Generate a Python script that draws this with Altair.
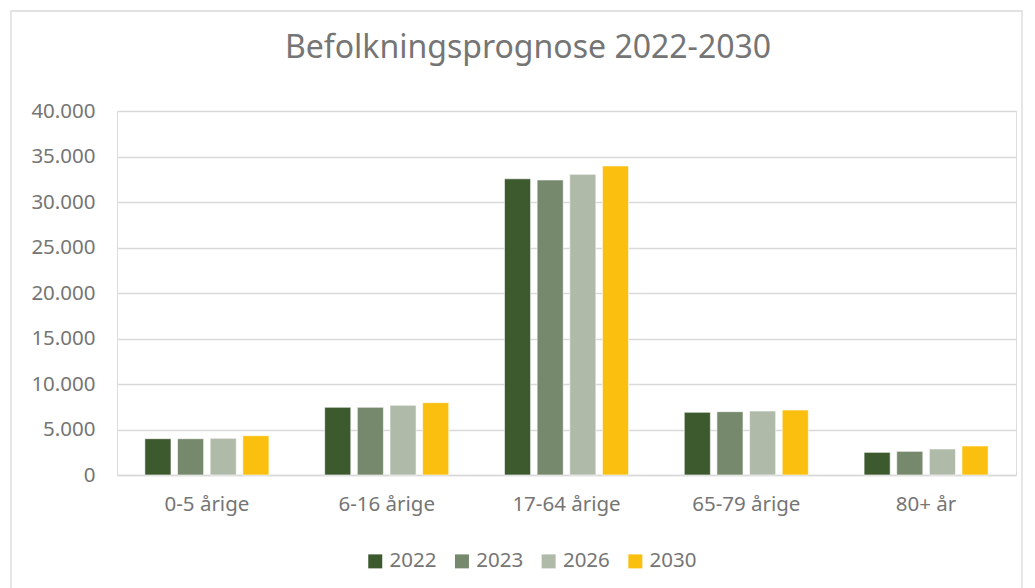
import altair as alt
import pandas as pd

categories = ["0-5 årige", "6-16 årige", "17-64 årige", "65-79 årige", "80+ år"]
years = ["2022", "2023", "2026", "2030"]
v2022 = [3990, 7440, 32550, 6890, 2490]
v2023 = [3990, 7440, 32420, 6960, 2600]
v2026 = [4030, 7660, 33040, 7030, 2860]
v2030 = [4320, 7950, 33960, 7140, 3190]
colors = ["#3d5a2f", "#76896c", "#b0baa9", "#fbbf0f"]
y_ticks = [0, 5000, 10000, 15000, 20000, 25000, 30000, 35000, 40000]
title_text = "Befolkningsprognose 2022-2030"

rows = []
for yr, vals in zip(years, [v2022, v2023, v2026, v2030]):
    for c, v in zip(categories, vals):
        rows.append({"Aldersgruppe": c, "År": yr, "Befolkning": v})
df = pd.DataFrame(rows)

FONT = "Noto Sans"
GRAY = "#757575"
GRID = "#d9d9d9"

bars = alt.Chart(df).mark_bar(stroke="white", strokeWidth=0.6).encode(
    x=alt.X("Aldersgruppe:N", sort=categories,
            scale=alt.Scale(paddingInner=0.31, paddingOuter=0.155),
            axis=alt.Axis(title=None, labelAngle=0, ticks=False, domain=True,
                          domainColor=GRID, domainWidth=1.3, labelPadding=19,
                          labelFontSize=20.5, labelColor=GRAY, labelFont=FONT)),
    xOffset=alt.XOffset("År:N", sort=years, scale=alt.Scale(paddingInner=0.2)),
    y=alt.Y("Befolkning:Q", scale=alt.Scale(domain=[0, 40000], nice=False),
            axis=alt.Axis(title=None, values=y_ticks,
                          labelExpr="replace(format(datum.value, ','), ',', '.')",
                          ticks=False, domain=False, gridColor=GRID, gridWidth=1.3,
                          labelPadding=22, labelFontSize=20.5, labelColor=GRAY,
                          labelFont=FONT)),
    color=alt.Color("År:N", sort=years,
                    scale=alt.Scale(domain=years, range=colors),
                    legend=alt.Legend(title=None, orient="none", direction="horizontal",
                                      legendX=248, legendY=440, symbolType="square",
                                      symbolSize=196, symbolStrokeWidth=0,
                                      labelFontSize=20.5, labelColor=GRAY, labelFont=FONT,
                                      columnPadding=14.7, labelOffset=4)),
)

title = alt.Chart(pd.DataFrame({"t": [title_text]})).mark_text(
    font=FONT, fontSize=32, color=GRAY, baseline="alphabetic", align="center"
).encode(x=alt.value(411), y=alt.value(-53), text="t:N")

border = alt.Chart(pd.DataFrame({"a": [0]})).mark_rect(
    fill="transparent", stroke=GRID, strokeWidth=1.3
).encode(x=alt.value(-106), x2=alt.value(905), y=alt.value(-100), y2=alt.value(520))

chart = alt.layer(border, bars, title).properties(
    width=899, height=364,
    autosize=alt.AutoSizeParams(type="none"),
    padding={"left": 109, "top": 103, "right": 11, "bottom": 113},
).configure_view(stroke=None).configure(background="white")

chart.save("out.html", embed_options={"renderer": "svg", "actions": False})
